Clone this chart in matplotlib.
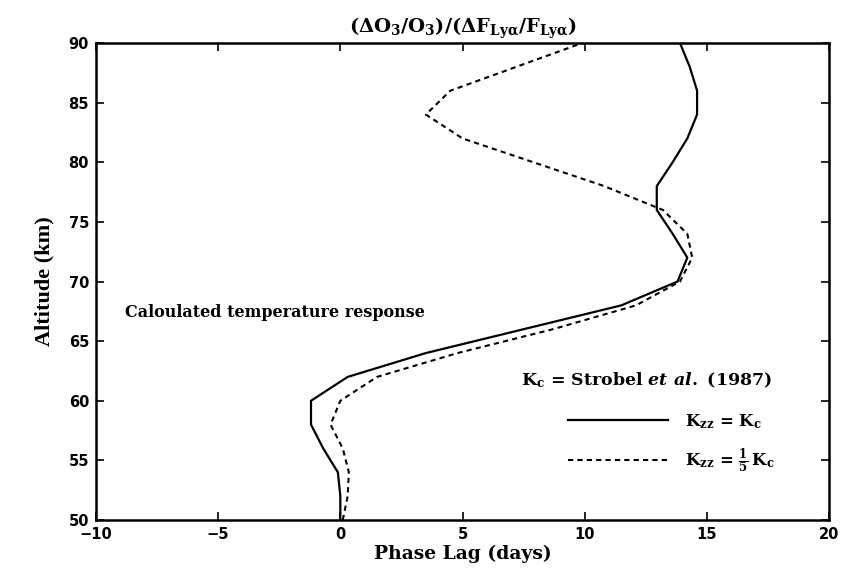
import numpy as np
import matplotlib.pyplot as plt

plt.rcParams['font.family'] = 'DejaVu Serif'
plt.rcParams['font.weight'] = 'bold'
plt.rcParams['mathtext.fontset'] = 'custom'
plt.rcParams['mathtext.rm'] = 'DejaVu Serif:bold'
plt.rcParams['mathtext.bf'] = 'DejaVu Serif:bold'
plt.rcParams['mathtext.it'] = 'DejaVu Serif:bold:italic'

# altitude grid (km)
altitude = [50, 52, 54, 56, 58, 60, 62, 64, 66, 68, 70,
            72, 74, 76, 78, 80, 82, 84, 86, 88, 90]

# phase lag (days), Kzz = Kc
lag_kc = [0.0, 0.0, -0.1, -0.7, -1.2, -1.2, 0.3, 3.5, 7.5, 11.5, 13.8,
          14.2, 13.6, 12.95, 12.95, 13.6, 14.2, 14.6, 14.6, 14.3, 13.9]

# phase lag (days), Kzz = Kc / 5
lag_kc5 = [0.1, 0.3, 0.35, 0.1, -0.4, 0.0, 1.5, 4.8, 8.7, 12.1, 13.9,
           14.4, 14.2, 13.2, 10.8, 7.9, 5.0, 3.5, 4.5, 7.2, 9.9]

fig = plt.figure(figsize=(8.47, 5.69), dpi=100)
ax = fig.add_axes([0.1133, 0.0861, 0.8655, 0.8383])

l1, = ax.plot(lag_kc, altitude, color='black', lw=1.6)
l2, = ax.plot(lag_kc5, altitude, color='black', lw=1.5, ls=(0, (2.5, 2)))

ax.set_xlim(-10, 20)
ax.set_ylim(50, 90)
ax.set_xticks(np.arange(-10, 21, 5))
ax.set_yticks(np.arange(50, 91, 5))
ax.tick_params(direction='in', top=True, right=True, length=6, width=1.2,
               labelsize=10.5, pad=5)
for lab in ax.get_xticklabels() + ax.get_yticklabels():
    lab.set_fontfamily('DejaVu Sans')
    lab.set_fontweight('bold')
for s in ax.spines.values():
    s.set_linewidth(1.8)

ax.set_xlabel('Phase Lag (days)', fontsize=13.5, fontweight='bold', labelpad=2)
ax.set_ylabel('Altitude (km)', fontsize=16, family='Liberation Serif',
              fontweight='bold', labelpad=10)
ax.set_title(r'$\mathrm{(\Delta O_3/O_3)/(\Delta F_{Ly\alpha}/F_{Ly\alpha})}$',
             fontsize=14, pad=7)

ax.text(-8.8, 67.4, 'Caloulated temperature response', fontsize=11.5,
        va='center', ha='left')
ax.text(7.4, 61.75, r'$\mathrm{K_c}$ = Strobel $\mathit{et\ al.}$ (1987)',
        fontsize=12.5, va='center', ha='left')

leg = ax.legend([l1, l2],
                [r'$\mathrm{K_{zz}}$ = $\mathrm{K_c}$',
                 r'$\mathrm{K_{zz}}$ = $\mathrm{\frac{1}{5}\,K_c}$'],
                loc='center left', bbox_to_anchor=(0.644, 0.16), frameon=False,
                borderpad=0, borderaxespad=0,
                handlelength=6.0, handletextpad=1.0, labelspacing=0.95,
                fontsize=12)

fig.savefig('out.png', dpi=100)
